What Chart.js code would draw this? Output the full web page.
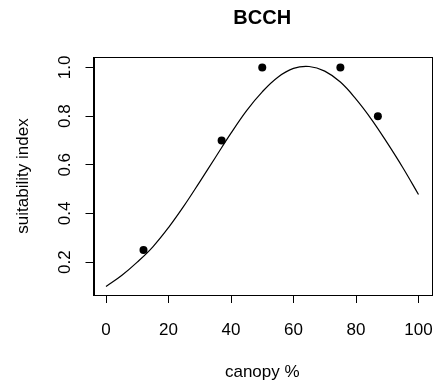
<!DOCTYPE html>
<html lang="en">
<head>
    <meta charset="UTF-8">
    <title>BCCH</title>
    <script src="https://cdn.jsdelivr.net/npm/chart.js"></script>
    <style>
        body { margin: 0; background: #fff; }
        #wrap { width: 436px; height: 383px; }
    </style>
</head>
<body>
    <div id="wrap"><canvas id="chart" width="436" height="383"></canvas></div>

    <script>
        // observed points
        const obsCanopy = [12, 37, 50, 75, 87];
        const obsIndex = [0.25, 0.70, 1.0, 1.0, 0.80];

        // fitted curve
        const curveCanopy = [0, 5, 10, 15, 20, 25, 30, 35, 40, 45, 50, 55, 60, 65, 70, 75, 80, 85, 90, 95, 100];
        const curveIndex = [0.10, 0.145, 0.20, 0.263, 0.342, 0.432, 0.53, 0.63, 0.73, 0.823, 0.90, 0.96, 0.996, 1.004, 0.985, 0.94, 0.87, 0.786, 0.69, 0.588, 0.478];

        const xTicks = [0, 20, 40, 60, 80, 100];
        const yTicks = [0.2, 0.4, 0.6, 0.8, 1.0];
        const yTickLabels = ['0.2', '0.4', '0.6', '0.8', '1.0'];

        const FONT = '"Liberation Sans", Arial, Helvetica, sans-serif';

        // box, tick labels and titles drawn like R base graphics
        const rPlot = {
            id: 'rPlot',
            afterDraw(chart) {
                const ctx = chart.ctx;
                const a = chart.chartArea;
                const xs = chart.scales.x;
                const ys = chart.scales.y;
                ctx.save();
                ctx.strokeStyle = '#000';
                ctx.lineWidth = 1;
                ctx.strokeRect(Math.round(a.left) + 0.5, Math.round(a.top) + 0.5,
                    Math.round(a.right - a.left), Math.round(a.bottom - a.top));

                ctx.fillStyle = '#000';
                ctx.font = '17px ' + FONT;
                ctx.textAlign = 'center';
                ctx.textBaseline = 'alphabetic';
                xTicks.forEach(v => {
                    ctx.fillText(String(v), xs.getPixelForValue(v), 335);
                });

                yTicks.forEach((v, i) => {
                    ctx.save();
                    ctx.translate(70, ys.getPixelForValue(v));
                    ctx.rotate(-Math.PI / 2);
                    ctx.fillText(yTickLabels[i], 0, 0);
                    ctx.restore();
                });

                const cx = (a.left + a.right) / 2;
                const cy = (a.top + a.bottom) / 2;
                ctx.fillText('canopy %', cx, 377);

                ctx.save();
                ctx.translate(28, cy);
                ctx.rotate(-Math.PI / 2);
                ctx.fillText('suitability index', 0, 0);
                ctx.restore();

                ctx.font = 'bold 20px ' + FONT;
                ctx.fillText('BCCH', cx, 23.5);
                ctx.restore();
            }
        };

        function fixTicks(values) {
            return scale => { scale.ticks = values.map(v => ({ value: v })); };
        }

        new Chart(document.getElementById('chart'), {
            type: 'scatter',
            data: {
                datasets: [{
                    label: 'fit',
                    data: curveCanopy.map((x, i) => ({ x: x, y: curveIndex[i] })),
                    showLine: true,
                    borderColor: '#000',
                    borderWidth: 1.2,
                    pointRadius: 0,
                    tension: 0.4
                }, {
                    label: 'observed',
                    data: obsCanopy.map((x, i) => ({ x: x, y: obsIndex[i] })),
                    pointRadius: 4,
                    pointBackgroundColor: '#000',
                    pointBorderColor: '#000',
                    pointBorderWidth: 0
                }]
            },
            options: {
                responsive: false,
                animation: false,
                events: [],
                layout: { padding: { top: 57, right: 5, left: 0, bottom: 0 } },
                plugins: {
                    legend: { display: false },
                    tooltip: { enabled: false },
                    title: { display: false }
                },
                scales: {
                    x: {
                        type: 'linear',
                        min: -4,
                        max: 104,
                        afterBuildTicks: fixTicks(xTicks),
                        afterFit: scale => { scale.height = 88; },
                        ticks: { display: false },
                        grid: { drawOnChartArea: false, drawTicks: true, tickLength: 8, color: '#000' },
                        border: { display: true, color: '#000' }
                    },
                    y: {
                        type: 'linear',
                        min: 0.065,
                        max: 1.043,
                        afterBuildTicks: fixTicks(yTicks),
                        afterFit: scale => { scale.width = 93.5; },
                        ticks: { display: false },
                        grid: { drawOnChartArea: false, drawTicks: true, tickLength: 8, color: '#000' },
                        border: { display: true, color: '#000' }
                    }
                }
            },
            plugins: [rPlot]
        });
    </script>
</body>
</html>
